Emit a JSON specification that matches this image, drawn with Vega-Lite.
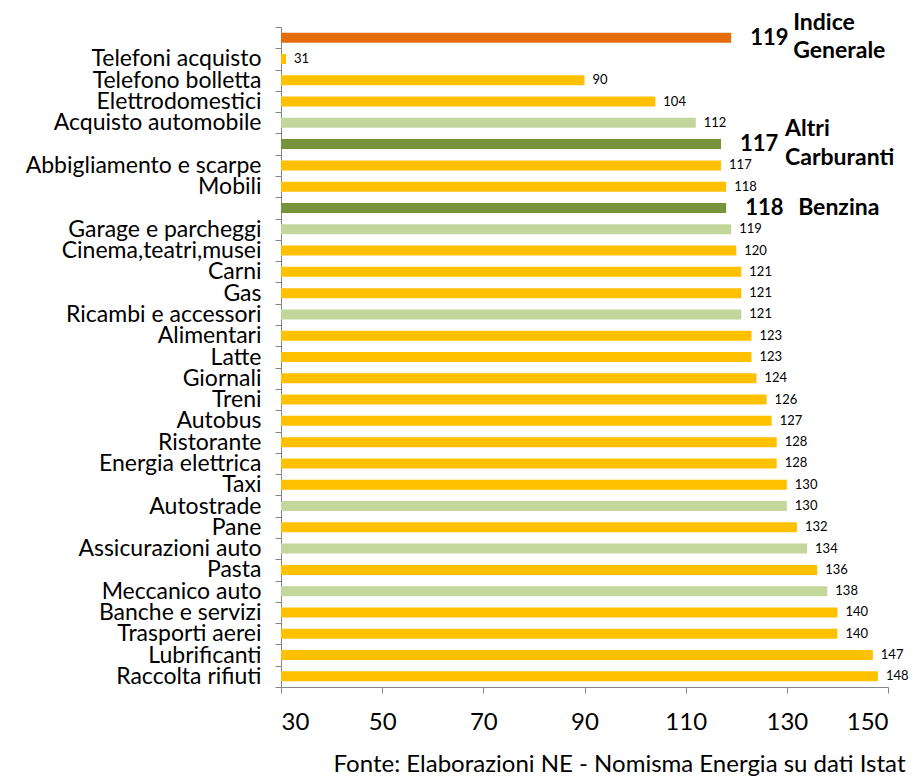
{
  "$schema": "https://vega.github.io/schema/vega-lite/v6.json",
  "autosize": "none",
  "width": 607,
  "height": 660,
  "padding": {"left": 281, "top": 27, "right": 25, "bottom": 90},
  "background": "white",
  "config": {
    "font": "Lato",
    "view": {"stroke": null}
  },
  "data": {
    "values": [
      {"name": "Indice Generale", "value": 119, "type": "indice"},
      {"name": "Telefoni acquisto\u00a0", "value": 31, "type": "altro"},
      {"name": "Telefono bolletta", "value": 90, "type": "altro"},
      {"name": "Elettrodomestici\u00a0", "value": 104, "type": "altro"},
      {"name": "Acquisto automobile", "value": 112, "type": "auto"},
      {"name": "Altri Carburanti", "value": 117, "type": "carburanti"},
      {"name": "Abbigliamento e scarpe", "value": 117, "type": "altro"},
      {"name": "Mobili", "value": 118, "type": "altro"},
      {"name": "Benzina", "value": 118, "type": "carburanti"},
      {"name": "Garage e parcheggi", "value": 119, "type": "auto"},
      {"name": "Cinema,teatri,musei", "value": 120, "type": "altro"},
      {"name": "Carni", "value": 121, "type": "altro"},
      {"name": "Gas", "value": 121, "type": "altro"},
      {"name": "Ricambi e accessori", "value": 121, "type": "auto"},
      {"name": "Alimentari", "value": 123, "type": "altro"},
      {"name": "Latte", "value": 123, "type": "altro"},
      {"name": "Giornali\u00a0", "value": 124, "type": "altro"},
      {"name": "Treni", "value": 126, "type": "altro"},
      {"name": "Autobus", "value": 127, "type": "altro"},
      {"name": "Ristorante", "value": 128, "type": "altro"},
      {"name": "Energia elettrica", "value": 128, "type": "altro"},
      {"name": "Taxi", "value": 130, "type": "altro"},
      {"name": "Autostrade", "value": 130, "type": "auto"},
      {"name": "Pane", "value": 132, "type": "altro"},
      {"name": "Assicurazioni auto", "value": 134, "type": "auto"},
      {"name": "Pasta", "value": 136, "type": "altro"},
      {"name": "Meccanico auto", "value": 138, "type": "auto"},
      {"name": "Banche e servizi", "value": 140, "type": "altro"},
      {"name": "Trasporti aerei", "value": 140, "type": "altro"},
      {"name": "Lubrificanti", "value": 147, "type": "altro"},
      {"name": "Raccolta rifiuti\u00a0", "value": 148, "type": "altro"}
    ]
  },
  "encoding": {
    "y": {
      "field": "name",
      "type": "nominal",
      "sort": null,
      "scale": {"paddingInner": 0, "paddingOuter": 0},
      "axis": {
        "title": null,
        "labelExpr": "indexof(['Indice Generale','Altri Carburanti','Benzina'], datum.value) >= 0 ? '' : datum.value",
        "labelFont": "Lato",
        "labelFontSize": 23,
        "labelColor": "#000000",
        "labelPadding": 14,
        "labelLimit": 300,
        "labelOverlap": false,
        "tickBand": "extent",
        "tickSize": 6,
        "tickColor": "#868686",
        "domainColor": "#868686",
        "domainWidth": 1,
        "grid": false
      }
    },
    "x": {
      "field": "value",
      "type": "quantitative",
      "scale": {"domain": [30, 150], "nice": false, "zero": false},
      "axis": {
        "values": [30, 50, 70, 90, 110, 130, 150],
        "grid": false,
        "labelFont": "Lato",
        "labelFontSize": 24,
        "labelColor": "#000000",
        "labelPadding": 17,
        "tickSize": 6,
        "tickColor": "#868686",
        "domainColor": "#868686",
        "title": "Fonte: Elaborazioni NE - Nomisma Energia su dati Istat",
        "titleFont": "Lato",
        "titleFontSize": 24,
        "titleFontWeight": "normal",
        "titleColor": "#000000",
        "titleAlign": "right",
        "titleAnchor": "end",
        "titleBaseline": "alphabetic",
        "titleX": 624,
        "titleY": 84
      }
    }
  },
  "layer": [
    {
      "mark": {"type": "bar", "size": 10},
      "encoding": {
        "x2": {"datum": 30},
        "color": {
          "field": "type",
          "type": "nominal",
          "legend": null,
          "scale": {
            "domain": ["indice", "altro", "auto", "carburanti"],
            "range": ["#E46C0A", "#FFC000", "#C3D69B", "#77933C"]
          }
        }
      }
    },
    {
      "transform": [{"filter": "datum.type == 'altro' || datum.type == 'auto'"}],
      "mark": {"type": "text", "align": "left", "baseline": "middle", "dx": 8, "fontSize": 13, "font": "Lato", "color": "#000000"},
      "encoding": {"text": {"field": "value", "type": "quantitative"}}
    },
    {
      "transform": [{"filter": "datum.type == 'indice' || datum.type == 'carburanti'"}],
      "mark": {"type": "text", "align": "left", "baseline": "middle", "dx": 19, "fontSize": 22, "fontWeight": "bold", "font": "Lato", "color": "#000000"},
      "encoding": {"text": {"field": "value", "type": "quantitative"}}
    },
    {
      "transform": [{"filter": "datum.name == 'Indice Generale'"}, {"calculate": "split(datum.name, ' ')", "as": "lines"}],
      "mark": {"type": "text", "align": "left", "baseline": "middle", "dx": 62, "dy": -15, "fontSize": 23, "fontWeight": "bold", "font": "Lato", "color": "#000000", "lineHeight": 28},
      "encoding": {"text": {"field": "lines"}}
    },
    {
      "transform": [{"filter": "datum.name == 'Altri Carburanti'"}, {"calculate": "split(datum.name, ' ')", "as": "lines"}],
      "mark": {"type": "text", "align": "left", "baseline": "middle", "dx": 64, "dy": -15, "fontSize": 23, "fontWeight": "bold", "font": "Lato", "color": "#000000", "lineHeight": 29},
      "encoding": {"text": {"field": "lines"}}
    },
    {
      "transform": [{"filter": "datum.name == 'Benzina'"}],
      "mark": {"type": "text", "align": "left", "baseline": "middle", "dx": 72, "fontSize": 23, "fontWeight": "bold", "font": "Lato", "color": "#000000"},
      "encoding": {"text": {"field": "name"}}
    }
  ]
}
